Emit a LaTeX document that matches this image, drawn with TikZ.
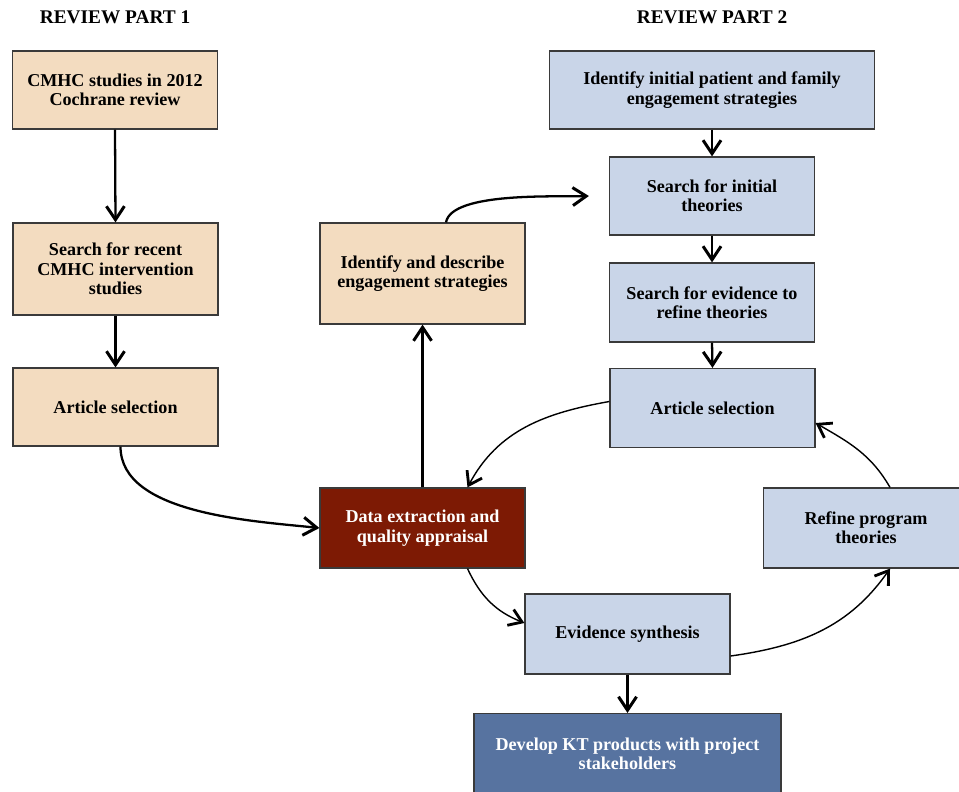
\documentclass[tikz,border=0pt]{standalone}
\usepackage{fontspec}
\setmainfont{Liberation Serif}
\usepackage{tikz}
\usepackage{xcolor}
\usetikzlibrary{arrows.meta}

\definecolor{peach}{HTML}{F3DCC0}
\definecolor{paleblue}{HTML}{C9D5E8}
\definecolor{ktblue}{HTML}{5773A0}
\definecolor{extractred}{HTML}{7D1A04}
\definecolor{boxline}{HTML}{3A3A3A}

\begin{document}
\begin{tikzpicture}[
	box/.style={draw=boxline, line width=0.7pt, minimum width=4.1cm, minimum height=1.56cm,%
	align=center, inner sep=2pt, font=\fontsize{10.3}{11}\selectfont\bfseries},
	partone/.style={box, fill=peach},
	parttwo/.style={box, fill=paleblue},
	header/.style={font=\fontsize{11}{13}\selectfont\bfseries},
	arr/.style={line width=1.3pt, -{Straight Barb[length=0.27cm, width=0.36cm, line width=1.7pt]}},
	thinarr/.style={line width=0.8pt, -{Straight Barb[length=0.25cm, width=0.34cm, line width=1.6pt]}}]
			\useasboundingbox (0,0) rectangle (19.18,-15.82);
			\clip (0,0) rectangle (19.18,-15.82);
			
			\node[header] (titleone) at (2.30,-0.34) {REVIEW PART 1};
			\node[header] (titletwo) at (14.24,-0.34) {REVIEW PART 2};
			
			% review part 1
			\node[partone] (cochrane) at (2.30,-1.80) {CMHC studies in 2012\\Cochrane review};
			\node[partone, minimum height=1.84cm] (recent) at (2.31,-5.38) {Search for recent\\CMHC intervention\\studies};
			\node[partone] (selectone) at (2.31,-8.14) {Article selection};
			\node[partone, minimum height=2.02cm] (describe) at (8.45,-5.47) {Identify and describe\\engagement strategies};
			\node[box, fill=extractred, text=white, minimum height=1.6cm] (extract) at (8.45,-10.56) {Data extraction and\\quality appraisal};
			
			% review part 2
			\node[parttwo, minimum width=6.5cm] (initial) at (14.24,-1.80) {Identify initial patient and family\\engagement strategies};
			\node[parttwo] (theories) at (14.24,-3.92) {Search for initial\\theories};
			\node[parttwo, minimum height=1.58cm] (evidence) at (14.24,-6.05) {Search for evidence to\\refine theories};
			\node[parttwo, minimum height=1.58cm] (selecttwo) at (14.25,-8.16) {Article selection};
			\node[parttwo, minimum height=1.6cm] (refine) at (17.32,-10.56) {Refine program\\theories};
			\node[parttwo, minimum height=1.6cm] (synthesis) at (12.55,-12.68) {Evidence synthesis};
			\node[box, fill=ktblue, text=white, minimum width=6.14cm, minimum height=1.62cm] (products) at (12.55,-15.08) {Develop KT products with project\\stakeholders};
			
			\draw[arr] (cochrane.south) -- (recent.north);
			\draw[arr] (recent.south) -- (selectone.north);
			\draw[arr] ([xshift=0.1cm]selectone.south) to[out=-90, in=174, looseness=0.8] (extract.west);
			\draw[arr] (extract.north) -- (describe.south);
			\draw[arr] ([xshift=0.47cm]describe.north) to[out=80, in=182, looseness=0.55] ([xshift=-0.4cm]theories.west);
			
			\draw[arr] (initial.south) -- (theories.north);
			\draw[arr] (theories.south) -- (evidence.north);
			\draw[arr] (evidence.south) -- (selecttwo.north);
			\draw[arr] (synthesis.south) -- (products.north);
			
			% the cycle
			\draw[thinarr] ([yshift=0.13cm]selecttwo.west) to[out=190, in=62] ([xshift=0.9cm]extract.north);
			\draw[thinarr] ([xshift=0.9cm]extract.south) to[out=-65, in=158] ([yshift=0.22cm]synthesis.west);
			\draw[thinarr] ([yshift=-0.44cm]synthesis.east) to[out=8, in=-125] ([xshift=0.48cm]refine.south);
			\draw[thinarr] ([xshift=0.48cm]refine.north) to[out=120, in=-30] ([yshift=-0.3cm]selecttwo.east);
		\end{tikzpicture}
\end{document}
